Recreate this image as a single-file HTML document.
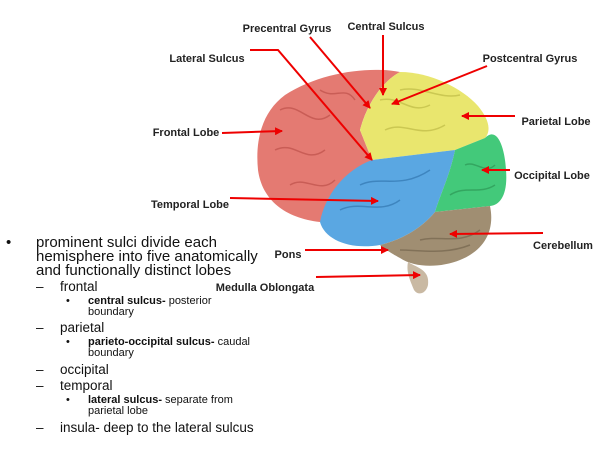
<!DOCTYPE html>
<html><head><style>
body{margin:0;width:600px;height:450px;background:#fff;position:relative;overflow:hidden;font-family:"Liberation Sans",sans-serif}
.t{position:absolute;white-space:nowrap;color:#111}
.l1{font-size:15px;line-height:14px}
.l2{font-size:13.5px}
.l3{font-size:11px;line-height:11px}
</style></head><body>
<svg width="600" height="450" style="position:absolute;left:0;top:0">
<defs><marker id="a" markerWidth="8" markerHeight="8" refX="7" refY="4" orient="auto" markerUnits="userSpaceOnUse"><path d="M0,0 L8,4 L0,8 z" fill="#e00"/></marker></defs>
<path d="M400,72 C370,66 320,72 285,95 C262,112 255,140 258,170 C262,200 285,218 320,222 L345,190 L372,160 L360,130 C368,100 385,80 400,72Z" fill="#e47a72"/>
<path d="M400,72 C430,72 462,88 478,106 C488,118 492,130 485,138 L455,150 L372,160 L360,130 C368,100 385,80 400,72Z" fill="#e9e66e"/>
<path d="M372,160 L455,150 C450,175 440,195 435,212 C420,230 400,240 380,245 C350,250 325,240 320,222 C325,195 345,170 372,160Z" fill="#5aa7e2"/>
<path d="M455,150 L485,138 C498,125 505,150 506,170 C508,195 500,205 490,206 L435,212 C440,195 450,175 455,150Z" fill="#43c97a"/>
<path d="M435,212 L490,206 C495,230 485,250 460,260 C440,268 415,268 400,258 C385,250 380,245 380,245 C400,240 420,230 435,212Z" fill="#a08e72"/>
<path d="M408,262 C418,268 430,270 428,285 C426,294 418,296 414,290 C410,280 406,272 408,262Z" fill="#c9b9a3"/>
<g fill="none" stroke-width="1.5" opacity="0.6">
<path d="M280,110 C300,100 310,130 330,115 M275,150 C295,140 305,165 325,150 M290,185 C305,175 320,195 335,180 M320,90 C335,100 345,85 355,100" stroke="#b84a44"/>
<path d="M380,100 C400,95 410,115 430,105 M385,130 C405,120 420,140 445,125 M400,90 C420,85 440,100 460,95" stroke="#b8b440"/>
<path d="M340,210 C360,200 380,215 400,200 M360,185 C380,175 400,190 430,170" stroke="#2c6fa8"/>
<path d="M465,165 C475,160 485,175 495,165 M450,195 C465,185 480,195 495,185" stroke="#2a9050"/>
<path d="M420,240 C440,235 460,245 480,230 M400,250 C420,250 445,255 470,245" stroke="#6e5e48"/>
</g>
<g stroke="#e00" stroke-width="2" fill="none" marker-end="url(#a)">
<line x1="310" y1="37" x2="370" y2="108"/>
<line x1="383" y1="35" x2="383" y2="95"/>
<polyline points="250,50 278,50 372,160"/>
<line x1="487" y1="66" x2="392" y2="104"/>
<line x1="515" y1="116" x2="462" y2="116"/>
<line x1="222" y1="133" x2="282" y2="131"/>
<line x1="510" y1="170" x2="482" y2="170"/>
<line x1="230" y1="198" x2="378" y2="201"/>
<line x1="543" y1="233" x2="450" y2="234"/>
<line x1="305" y1="250" x2="388" y2="250"/>
<line x1="316" y1="277" x2="420" y2="275"/>
</g>
<g font-family="Liberation Sans,sans-serif" font-weight="bold" font-size="11" fill="#222" text-anchor="middle">
<text x="287" y="32">Precentral Gyrus</text>
<text x="386" y="30">Central Sulcus</text>
<text x="207" y="62">Lateral Sulcus</text>
<text x="530" y="62">Postcentral Gyrus</text>
<text x="556" y="125">Parietal Lobe</text>
<text x="186" y="136">Frontal Lobe</text>
<text x="552" y="179">Occipital Lobe</text>
<text x="190" y="208">Temporal Lobe</text>
<text x="563" y="249">Cerebellum</text>
<text x="288" y="258">Pons</text>
<text x="265" y="291">Medulla Oblongata</text>
</g>
</svg>
<div class="t l1" style="left:6px;top:236px">•</div>
<div class="t l1" style="left:36px;top:236px">prominent sulci divide each<br>hemisphere into five anatomically<br>and functionally distinct lobes</div>
<div class="t l2" style="left:36px;top:279px">–</div><div class="t l2" style="left:60px;top:279px">frontal</div>
<div class="t l3" style="left:66px;top:296px">•</div><div class="t l3" style="left:88px;top:296px"><b>central sulcus-</b> posterior<br>boundary</div>
<div class="t l2" style="left:36px;top:320px">–</div><div class="t l2" style="left:60px;top:320px">parietal</div>
<div class="t l3" style="left:66px;top:337px">•</div><div class="t l3" style="left:88px;top:337px"><b>parieto-occipital sulcus-</b> caudal<br>boundary</div>
<div class="t l2" style="left:36px;top:362px">–</div><div class="t l2" style="left:60px;top:362px">occipital</div>
<div class="t l2" style="left:36px;top:378px">–</div><div class="t l2" style="left:60px;top:378px">temporal</div>
<div class="t l3" style="left:66px;top:395px">•</div><div class="t l3" style="left:88px;top:395px"><b>lateral sulcus-</b> separate from<br>parietal lobe</div>
<div class="t l2" style="left:36px;top:420px">–</div><div class="t l2" style="left:60px;top:420px">insula- deep to the lateral sulcus</div>
</body></html>
